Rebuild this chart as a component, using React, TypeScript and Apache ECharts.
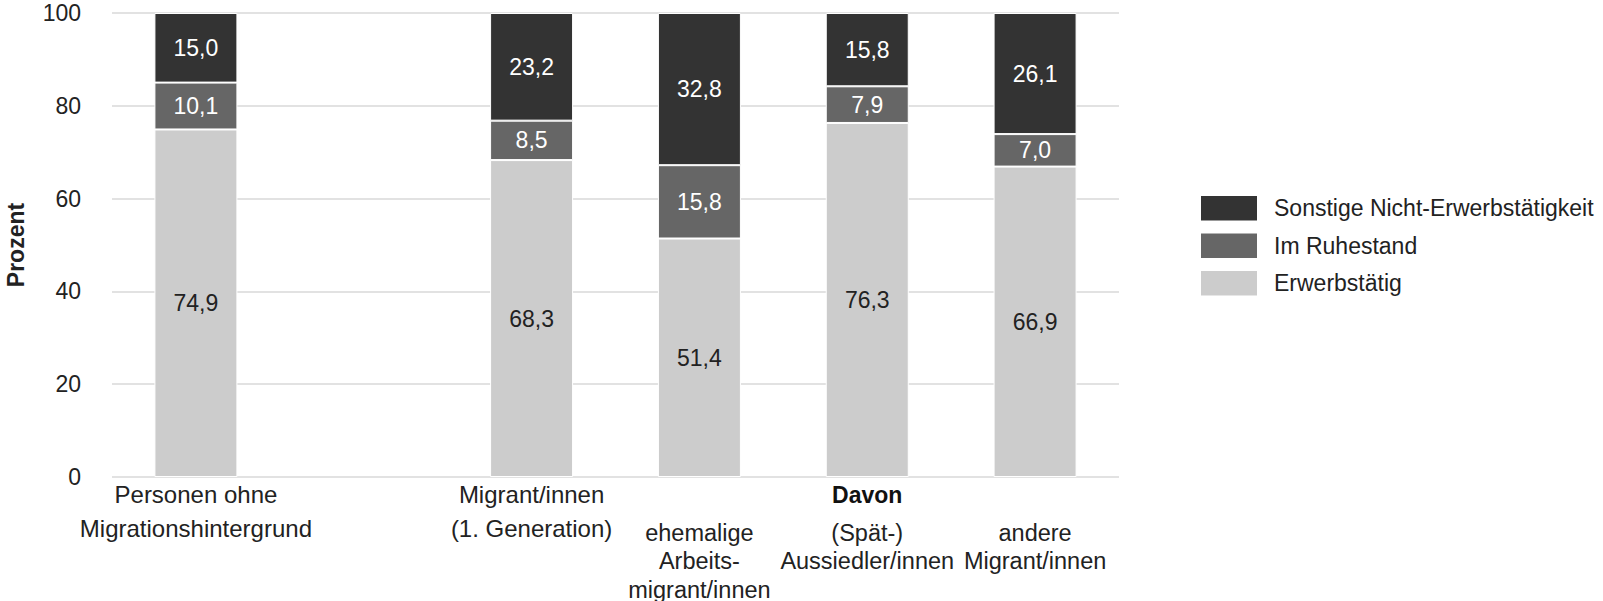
import React, { useEffect, useRef } from "react";
import * as echarts from "echarts";

const categories = [
  "Personen ohne\nMigrationshintergrund",
  "",
  "Migrant/innen\n(1. Generation)",
  "ehemalige\nArbeits-\nmigrant/innen",
  "(Spät-)\nAussiedler/innen",
  "andere\nMigrant/innen",
];
const groupHeader = "Davon";
const subgroupStart = 3;
const groupHeaderIndex = 4;

const erwerbstaetig = [74.9, null, 68.3, 51.4, 76.3, 66.9];
const ruhestand = [10.1, null, 8.5, 15.8, 7.9, 7.0];
const sonstige = [15.0, null, 23.2, 32.8, 15.8, 26.1];

const seriesNames = ["Erwerbstätig", "Im Ruhestand", "Sonstige Nicht-Erwerbstätigkeit"];
const legendOrder = ["Sonstige Nicht-Erwerbstätigkeit", "Im Ruhestand", "Erwerbstätig"];
const yTicks = { min: 0, max: 100, interval: 20 };

const FONT = "'Liberation Sans', Arial, Helvetica, sans-serif";

export default function App() {
  const ref = useRef<HTMLDivElement>(null);
  useEffect(() => {
    document.body.style.margin = "0";
    if (!ref.current) return;
    const chart = echarts.init(ref.current, null, { renderer: "svg" });
    const fmt = (v: number) => v.toFixed(1).replace(".", ",");
    const mkSeries = (name: string, data: (number | null)[], color: string, labelColor: string) => ({
      name,
      type: "bar",
      stack: "total",
      data,
      barWidth: 83,
      itemStyle: { color, borderColor: "#ffffff", borderWidth: 1 },
      label: {
        show: true,
        position: "inside",
        color: labelColor,
        fontSize: 23,
        fontFamily: FONT,
        formatter: (p: any) => (p.value == null ? "" : fmt(p.value)),
      },
    });
    chart.setOption({
      animation: false,
      textStyle: { fontFamily: FONT },
      grid: { left: 112, right: 484, top: 13, bottom: 124, containLabel: false, outerBoundsMode: "none" },
      legend: {
        orient: "vertical",
        left: 1199,
        top: 194,
        padding: 0,
        itemWidth: 58,
        itemHeight: 26.5,
        itemGap: 9,
        icon: "rect",
        data: legendOrder,
        textStyle: { fontSize: 23, color: "#222", fontFamily: FONT, padding: [0, 0, 0, 11] },
      },
      xAxis: {
        type: "category",
        data: categories,
        axisLine: { show: false },
        axisTick: { show: false },
        axisLabel: {
          interval: 0,
          margin: 1,
          color: "#222",
          fontFamily: FONT,
          fontSize: 24,
          formatter: (value: string, idx: number) => {
            const lines = value.split("\n");
            if (idx >= subgroupStart) {
              const body = lines.map((l) => `{n|${l}}`).join("\n");
              if (idx === groupHeaderIndex) return `{b|${groupHeader}}\n{s2| }\n` + body;
              return `{s| }\n` + body;
            }
            return lines.map((l) => `{m|${l}}`).join("\n");
          },
          rich: {
            m: { fontSize: 24, lineHeight: 33.4, fontFamily: FONT, color: "#222" },
            n: { fontSize: 23.5, lineHeight: 28.3, fontFamily: FONT, color: "#222" },
            b: { fontSize: 23, lineHeight: 33.4, fontFamily: FONT, fontWeight: "bold", color: "#111" },
            s: { fontSize: 8, lineHeight: 41 },
            s2: { fontSize: 6, lineHeight: 7.6 },
          },
        },
      },
      yAxis: {
        type: "value",
        min: yTicks.min,
        max: yTicks.max,
        interval: yTicks.interval,
        name: "Prozent",
        nameLocation: "middle",
        nameGap: 85,
        nameTextStyle: { fontSize: 23, fontFamily: FONT, fontWeight: "bold", color: "#222" },
        axisLine: { show: false },
        axisTick: { show: false },
        axisLabel: { margin: 31, fontSize: 23, fontFamily: FONT, color: "#222" },
        splitLine: { lineStyle: { color: "#e2e2e2", width: 2 } },
      },
      series: [
        mkSeries(seriesNames[0], erwerbstaetig, "#cccccc", "#222222"),
        mkSeries(seriesNames[1], ruhestand, "#666666", "#ffffff"),
        mkSeries(seriesNames[2], sonstige, "#333333", "#ffffff"),
      ],
    });
    return () => chart.dispose();
  }, []);
  return <div ref={ref} style={{ width: 1603, height: 601 }} />;
}
